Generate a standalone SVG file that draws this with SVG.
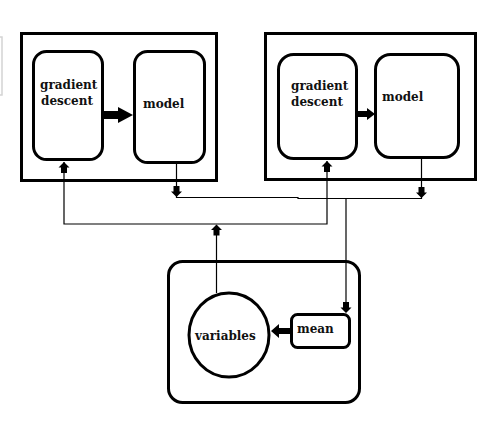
<svg xmlns="http://www.w3.org/2000/svg" width="501" height="422" viewBox="0 0 501 422">
  <style>
    .frame { fill: #ffffff; stroke: #000000; stroke-width: 3; }
    .node { fill: #ffffff; stroke: #000000; stroke-width: 3; }
    .lbl { font-family: "DejaVu Serif", "Liberation Serif", serif; font-weight: bold; font-size: 12px; fill: #111111; }
    .wire { fill: none; stroke: #000000; stroke-width: 1.2; }
    .head { fill: #000000; stroke: none; }
  </style>
  <defs>
    <path id="tip" d="M0,0 L5.5,5.5 L3,5.5 L3,11 L-3,11 L-3,5.5 L-5.5,5.5 Z"/>
  </defs>
  <rect width="501" height="422" fill="#ffffff"/>
  <path d="M0,37 H2 V95 H0" fill="none" stroke="#d4d4d4" stroke-width="1.5"/>

  <g id="group-left">
    <rect class="frame" x="21.5" y="33.5" width="195" height="147"/>
    <g id="gd-left">
      <rect class="node" x="33.5" y="51.5" width="69" height="108" rx="13"/>
      <text class="lbl" x="40" y="89">gradient</text>
      <text class="lbl" x="41" y="105">descent</text>
    </g>
    <g id="model-left">
      <rect class="node" x="134.5" y="51.5" width="70" height="111" rx="13"/>
      <text class="lbl" x="143" y="108">model</text>
    </g>
  </g>

  <g id="group-right">
    <rect class="frame" x="265.5" y="33.5" width="210" height="146"/>
    <g id="gd-right">
      <rect class="node" x="278.5" y="54.5" width="78" height="104" rx="15"/>
      <text class="lbl" x="291" y="90">gradient</text>
      <text class="lbl" x="291" y="106">descent</text>
    </g>
    <g id="model-right">
      <rect class="node" x="375.5" y="54.5" width="83" height="103" rx="15"/>
      <text class="lbl" x="382" y="101">model</text>
    </g>
  </g>

  <g id="group-bottom">
    <rect class="frame" x="168.5" y="261.5" width="191" height="141" rx="14"/>
    <g id="variables">
      <ellipse class="node" cx="229" cy="335" rx="40" ry="42"/>
      <text class="lbl" x="195" y="340">variables</text>
    </g>
    <g id="mean">
      <rect class="node" x="291.5" y="314.5" width="58" height="33" rx="6"/>
      <text class="lbl" x="297" y="333">mean</text>
    </g>
  </g>

  <g id="connectors">
    <path class="head" d="M104,111 H118 V107 L133,115 L118,123 V119 H104 Z"/>
    <path class="head" d="M358,111 H367 V108 L375,114 L367,120 V117 H358 Z"/>
    <path class="head" d="M291,328 H279 V324 L271,331 L279,338 V334 H291 Z"/>
    <path class="wire" d="M176.5,164 V197.5 H298 V198.5 H421.5 V158"/>
    <use href="#tip" class="head" transform="translate(176.5,197) rotate(180)"/>
    <use href="#tip" class="head" transform="translate(421.5,198) rotate(180)"/>
    <path class="wire" d="M346,198.5 V312"/>
    <use href="#tip" class="head" transform="translate(346,313) rotate(180)"/>
    <path class="wire" d="M64,162 V224 H327 V161"/>
    <use href="#tip" class="head" transform="translate(64,162)"/>
    <use href="#tip" class="head" transform="translate(327,161)"/>
    <path class="wire" d="M216.5,293 V225"/>
    <use href="#tip" class="head" transform="translate(216.5,224.5)"/>
  </g>
</svg>
